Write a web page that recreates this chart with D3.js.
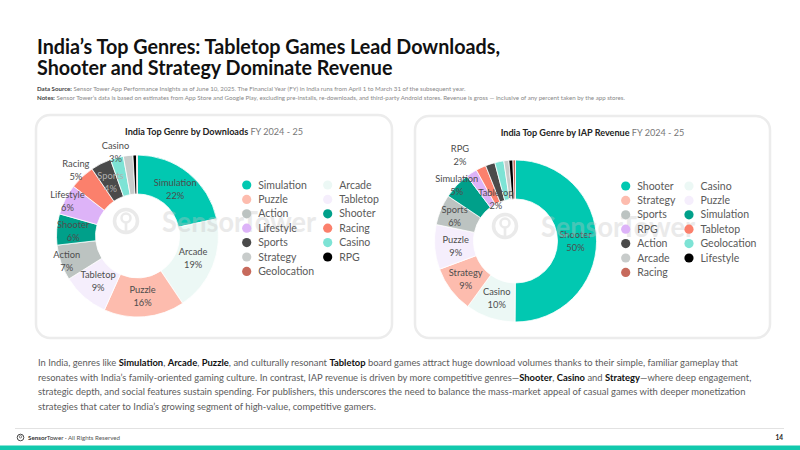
<!DOCTYPE html>
<html>
<head>
<meta charset="utf-8">
<script src="https://cdn.jsdelivr.net/npm/d3@7"></script>
<style>
  body { margin: 0; background: #fff; }
  svg { display: block; }
</style>
</head>
<body>
<svg id="chart" width="800" height="450"></svg>
<script>
// FY 2024-25 genre shares (%), listed in legend order
const dlGenres = ["Simulation", "Arcade", "Puzzle", "Tabletop", "Action", "Shooter", "Lifestyle", "Racing", "Sports", "Casino", "Strategy", "RPG", "Geolocation"];
const dlShare = [21.6, 19.0, 16.1, 9.4, 7.1, 6.2, 6.1, 5.0, 4.1, 2.6, 1.9, 0.7, 0.2];

const revGenres = ["Shooter", "Casino", "Strategy", "Puzzle", "Sports", "Simulation", "RPG", "Tabletop", "Action", "Geolocation", "Arcade", "Lifestyle", "Racing"];
const revShare = [50.0, 9.9, 9.3, 8.9, 6.1, 5.4, 2.2, 2.0, 1.9, 1.8, 1.0, 0.8, 0.5];

// colours go by slice rank, not by genre
const palette = ["#01c8b1", "#ecf8f5", "#fdbcae", "#f5eefc", "#bcc3c1", "#00a08a", "#ddb3f8", "#fb806c", "#4a4a4a", "#7de3d5", "#c8cccb", "#000000", "#c76a5c"];

const titleLines = [
  "India\u2019s Top Genres: Tabletop Games Lead Downloads,",
  "Shooter and Strategy Dominate Revenue"
];

const noteLines = [
  ["Data Source:", " Sensor Tower App Performance Insights as of June 10, 2025. The Financial Year (FY) in India runs from April 1 to March 31 of the subsequent year."],
  ["Notes:", " Sensor Tower\u2019s data is based on estimates from App Store and Google Play, excluding pre-installs, re-downloads, and third-party Android stores. Revenue is gross \u2014 inclusive of any percent taken by the app stores."]
];

// paragraph: [text, bold?] runs per line
const bodyLines = [
  [["In India, genres like ", 0], ["Simulation", 1], [", ", 0], ["Arcade", 1], [", ", 0], ["Puzzle", 1], [", and culturally resonant ", 0], ["Tabletop", 1], [" board games attract huge download volumes thanks to their simple, familiar gameplay that", 0]],
  [["resonates with India\u2019s family-oriented gaming culture. In contrast, IAP revenue is driven by more competitive genres\u2014", 0], ["Shooter", 1], [", ", 0], ["Casino", 1], [" and ", 0], ["Strategy", 1], ["\u2014where deep engagement,", 0]],
  [["strategic depth, and social features sustain spending. For publishers, this underscores the need to balance the mass-market appeal of casual games with deeper monetization", 0]],
  [["strategies that cater to India\u2019s growing segment of high-value, competitive gamers.", 0]]
];

const ui = "Lato, 'Open Sans', sans-serif";

let svg = d3.select("#chart");
svg.append("rect").attr("width", 800).attr("height", 450).attr("fill", "#fff");

// squeeze a block of lines horizontally (the deck uses a condensed face)
function condense(texts, refIndex, target) {
  let nodes = texts.nodes();
  let k = target / nodes[refIndex].getComputedTextLength();
  nodes.forEach(n => {
    let w = n.getComputedTextLength();
    d3.select(n).attr("textLength", w * k).attr("lengthAdjust", "spacingAndGlyphs");
  });
}

// headline
let head = svg.append("g")
  .selectAll("text")
  .data(titleLines)
  .join("text")
  .attr("x", 37)
  .attr("y", (d, i) => 54 + i * 20.5)
  .attr("font-family", ui)
  .attr("font-weight", 700)
  .attr("font-size", 20.5)
  .attr("fill", "#111")
  .text(d => d);
condense(head, 0, 463);

// source + notes
let notes = svg.append("g").selectAll("text")
  .data(noteLines)
  .join("text")
  .attr("x", 37)
  .attr("y", (d, i) => 91 + i * 9)
  .attr("font-family", ui)
  .attr("font-size", 6.2)
  .attr("fill", "#888");
notes.append("tspan").attr("font-weight", 700).attr("fill", "#444").text(d => d[0]);
notes.append("tspan").text(d => d[1]);
condense(notes, 1, 588);

function drawPanel(cfg) {
  let g = svg.append("g").attr("transform", `translate(${cfg.x},${cfg.y})`);

  g.append("rect")
    .attr("width", cfg.w)
    .attr("height", cfg.h)
    .attr("rx", 14)
    .attr("fill", "#fff")
    .attr("stroke", "#ececec")
    .attr("stroke-width", 2.5);

  let title = g.append("text")
    .attr("x", cfg.w / 2)
    .attr("y", 20)
    .attr("text-anchor", "middle")
    .attr("font-family", ui)
    .attr("font-size", 9.1);
  title.append("tspan").attr("font-weight", 700).attr("fill", "#222").text(cfg.title);
  title.append("tspan").attr("fill", "#777").text(" FY 2024 - 25");

  let data = cfg.genres.map((k, i) => ({ genre: k, v: cfg.values[i], i: i }));
  let total = d3.sum(data, d => d.v);

  let pie = d3.pie().sort(null).value(d => d.v);
  let arc = d3.arc().innerRadius(42).outerRadius(81);
  let arcs = pie(data);

  let donut = g.append("g").attr("transform", `translate(${cfg.cx},${cfg.cy})`);

  donut.selectAll("path")
    .data(arcs)
    .join("path")
    .attr("d", arc)
    .attr("fill", d => palette[d.data.i])
    .attr("stroke", "#fff")
    .attr("stroke-width", 0.8);

  // watermark
  let wm = g.append("g").attr("opacity", 0.35).attr("fill", "#c4c4c4");
  wm.append("circle")
    .attr("cx", 90).attr("cy", cfg.cy - 15).attr("r", 11.5)
    .attr("fill", "none").attr("stroke", "#c4c4c4").attr("stroke-width", 3.5);
  wm.append("circle")
    .attr("cx", 90).attr("cy", cfg.cy - 18).attr("r", 4.5)
    .attr("fill", "none").attr("stroke", "#c4c4c4").attr("stroke-width", 2.5);
  wm.append("rect")
    .attr("x", 88.7).attr("y", cfg.cy - 14).attr("width", 2.6).attr("height", 9);
  wm.append("text")
    .attr("x", 126)
    .attr("y", cfg.cy - 4)
    .attr("font-family", ui)
    .attr("font-weight", 700)
    .attr("font-size", 29)
    .attr("textLength", 154)
    .attr("lengthAdjust", "spacingAndGlyphs")
    .text("SensorTower");

  // slice labels: start at the ring middle, slide outward (then inward) until clear
  let fmt = d3.format(".0%");
  let placed = [];
  let radii = d3.range(60, 130, 0.5).concat(d3.range(59.5, 40, -0.5));
  let labels = donut.append("g")
    .attr("font-family", ui)
    .attr("font-size", 9.3)
    .attr("text-anchor", "middle");

  arcs.filter(a => a.data.v >= 2).forEach(a => {
    let dark = d3.lab(palette[a.data.i]).l < 40;
    let t = labels.append("text").attr("fill", dark ? "#b0b0b0" : "#4d4d4d");
    t.append("tspan").attr("x", 0).attr("y", -3).text(a.data.genre);
    t.append("tspan").attr("x", 0).attr("y", 10).text(fmt(a.data.v / total));
    let w = t.node().getBBox().width;
    let mid = (a.startAngle + a.endAngle) / 2;
    let best = null;
    for (let r of radii) {
      let x = r * Math.sin(mid), y = -r * Math.cos(mid);
      let box = { x0: x - w / 2, x1: x + w / 2, y0: y - 15, y1: y + 15 };
      if (box.y0 < -cfg.cy + 18) continue;
      let ov = d3.sum(placed, p =>
        Math.max(0, Math.min(p.x1, box.x1) - Math.max(p.x0, box.x0)) *
        Math.max(0, Math.min(p.y1, box.y1) - Math.max(p.y0, box.y0)));
      if (!best || ov < best.ov) best = { ov, x, y, box };
      if (ov === 0) break;
    }
    placed.push(best.box);
    t.attr("transform", `translate(${best.x},${best.y})`);
  });

  // legend, two columns filled row by row
  let leg = g.append("g")
    .attr("font-family", ui)
    .attr("font-size", 10.5)
    .attr("fill", "#5a5a5a");
  let tmp = leg.append("text");
  let col1W = d3.max(data.filter(d => d.i % 2 === 0), d => {
    tmp.text(d.genre);
    return tmp.node().getComputedTextLength();
  });
  tmp.remove();
  let col2 = 12 + col1W + 13;

  let items = leg.selectAll("g")
    .data(data)
    .join("g")
    .attr("transform", d => `translate(${cfg.legX + (d.i % 2) * col2},${70 + Math.floor(d.i / 2) * 14.4})`);
  items.append("circle").attr("r", 4.6).attr("fill", d => palette[d.i]);
  items.append("text").attr("x", 11.5).attr("dy", "0.35em").text(d => d.genre);
}

drawPanel({
  x: 36, y: 115, w: 356, h: 223,
  cx: 101.5, cy: 121,
  legX: 210.7,
  title: "India Top Genre by Downloads",
  genres: dlGenres, values: dlShare
});

drawPanel({
  x: 415, y: 116, w: 355, h: 222,
  cx: 100.5, cy: 125,
  legX: 210.7,
  title: "India Top Genre by IAP Revenue",
  genres: revGenres, values: revShare
});

// commentary
let body = svg.append("g").selectAll("text")
  .data(bodyLines)
  .join("text")
  .attr("x", 38)
  .attr("y", (d, i) => 366 + i * 14.7)
  .attr("font-family", ui)
  .attr("font-size", 10)
  .attr("fill", "#5c5c5c");
body.selectAll("tspan")
  .data(d => d)
  .join("tspan")
  .attr("font-weight", r => r[1] ? 700 : 400)
  .attr("fill", r => r[1] ? "#111" : "#5c5c5c")
  .text(r => r[0]);
condense(body, 0, 700);

// footer
svg.append("line")
  .attr("x1", 15).attr("x2", 784)
  .attr("y1", 428.5).attr("y2", 428.5)
  .attr("stroke", "#e2e2e2");

svg.append("circle")
  .attr("cx", 20.5).attr("cy", 437.5).attr("r", 3.3)
  .attr("fill", "none").attr("stroke", "#333").attr("stroke-width", 0.9);
svg.append("circle")
  .attr("cx", 20.5).attr("cy", 436.8).attr("r", 1.2)
  .attr("fill", "none").attr("stroke", "#333").attr("stroke-width", 0.6);

let foot = svg.append("text")
  .attr("x", 28).attr("y", 440)
  .attr("font-family", ui)
  .attr("font-size", 6.2)
  .attr("fill", "#333");
foot.append("tspan").attr("font-weight", 700).text("Sensor");
foot.append("tspan").text("Tower");
foot.append("tspan").attr("fill", "#555").text(" \u00b7 All Rights Reserved");

svg.append("text")
  .attr("x", 783).attr("y", 440)
  .attr("text-anchor", "end")
  .attr("font-family", ui)
  .attr("font-weight", 700)
  .attr("font-size", 6.5)
  .attr("fill", "#222")
  .text("14");

svg.append("rect")
  .attr("x", 0).attr("y", 445.5)
  .attr("width", 800).attr("height", 4.5)
  .attr("fill", "#12c9ad");
</script>
</body>
</html>
